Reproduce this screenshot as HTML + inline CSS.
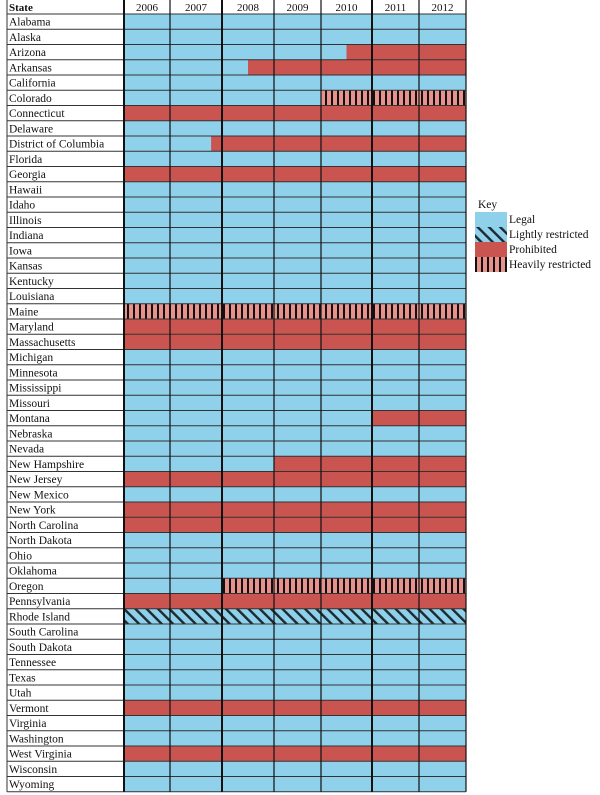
<!DOCTYPE html>
<html><head><meta charset="utf-8"><style>
body{margin:0;background:#fff;}
svg{display:block;font-family:"Liberation Serif",serif;}
</style></head><body>
<svg id="chart" width="600" height="795" viewBox="0 0 600 795" xmlns="http://www.w3.org/2000/svg">
<defs>
<pattern id="heavy" patternUnits="userSpaceOnUse" width="6" height="10">
<rect width="6" height="10" fill="#e8928e"/><rect x="1" width="2" height="10" fill="#111"/>
</pattern>
<pattern id="light" patternUnits="userSpaceOnUse" width="8" height="8" patternTransform="rotate(-45)">
<rect width="8" height="8" fill="#8fd0ea"/><rect x="0" width="2.4" height="8" fill="#1a2a30"/>
</pattern>
</defs>
<g id="cells"></g>
<g id="grid"></g>
<g id="labels"></g>
<g id="legend"></g>
</svg>
<script>
const years = ['2006','2007','2008','2009','2010','2011','2012'];
const states = ['Alabama','Alaska','Arizona','Arkansas','California','Colorado','Connecticut','Delaware','District of Columbia','Florida','Georgia','Hawaii','Idaho','Illinois','Indiana','Iowa','Kansas','Kentucky','Louisiana','Maine','Maryland','Massachusetts','Michigan','Minnesota','Mississippi','Missouri','Montana','Nebraska','Nevada','New Hampshire','New Jersey','New Mexico','New York','North Carolina','North Dakota','Ohio','Oklahoma','Oregon','Pennsylvania','Rhode Island','South Carolina','South Dakota','Tennessee','Texas','Utah','Vermont','Virginia','Washington','West Virginia','Wisconsin','Wyoming'];
// initial status per state (L legal, R lightly restricted, P prohibited, H heavily restricted)
const initialStatus = ['L','L','L','L','L','L','P','L','L','L','P','L','L','L','L','L','L','L','L','H','P','P','L','L','L','L','L','L','L','L','P','L','P','P','L','L','L','L','P','R','L','L','L','L','L','P','L','L','P','L','L'];
// status changes: [state, time (year + fraction), new status]
const changes = [['Arizona',2010.5,'P'],['Arkansas',2008.5,'P'],['Colorado',2010,'H'],['District of Columbia',2007.79,'P'],['Montana',2011,'P'],['New Hampshire',2009,'P'],['Oregon',2008,'H']];
const legendLabels = ['Legal','Lightly restricted','Prohibited','Heavily restricted'];
const legendCodes = ['L','R','P','H'];

const bounds = [124,170,222,274,321,372,419,466];
const fills = {L:'#8fd0ea',R:'url(#light)',P:'#c95450',H:'url(#heavy)'};
const top0 = 14, rowH = 15.25, left = 7;
function xScale(t){const i=Math.min(Math.floor(t-2006),6);const f=t-2006-i;return bounds[i]+f*(bounds[i+1]-bounds[i]);}
function yScale(i){return top0+i*rowH;}
const NS='http://www.w3.org/2000/svg';
function mk(tag,attrs,parent){const e=document.createElementNS(NS,tag);for(const k in attrs)e.setAttribute(k,attrs[k]);parent.appendChild(e);return e;}
const cells=document.getElementById('cells'),grid=document.getElementById('grid'),labels=document.getElementById('labels'),legend=document.getElementById('legend');

states.forEach((s,i)=>{
  const segs=[[2006,initialStatus[i]]];
  changes.filter(c=>c[0]===s).sort((a,b)=>a[1]-b[1]).forEach(c=>segs.push([c[1],c[2]]));
  segs.forEach((seg,j)=>{
    const end=j+1<segs.length?segs[j+1][0]:2013;
    const x0=xScale(seg[0]),x1=end>=2013?bounds[7]:xScale(end);
    const r=mk('rect',{x:x0,y:yScale(i),width:x1-x0,height:rowH,fill:fills[seg[1]]},cells);
    
    
  });
  const t=mk('text',{x:left+2,y:yScale(i)+11.5,'font-size':'11.5',fill:'#111'},labels);
  t.textContent=s;
  
  
});
years.forEach((y,i)=>{
  const t=mk('text',{x:(bounds[i]+bounds[i+1])/2,y:11,'font-size':'11','text-anchor':'middle',fill:'#111'},labels);
  t.textContent=y;
  
  
});
const st=mk('text',{x:left+2,y:11,'font-size':'11','font-weight':'bold',fill:'#111'},labels);
st.textContent='State';


const bottom=yScale(states.length);
for(let i=0;i<=states.length;i++){mk('line',{x1:left,x2:bounds[7],y1:yScale(i),y2:yScale(i),stroke:'#333','stroke-width':1},grid);}
mk('line',{x1:left,x2:left,y1:0,y2:bottom,stroke:'#333','stroke-width':1},grid);
bounds.forEach((b,i)=>{const thick=(i===0||i===2||i===5);mk('line',{x1:b,x2:b,y1:0,y2:bottom,stroke:'#111','stroke-width':thick?2:1.2},grid);});

const kt=mk('text',{x:478,y:208,'font-size':'11.5',fill:'#111'},legend);
kt.textContent='Key';
legendCodes.forEach((c,i)=>{
  const y=212+i*15;
  const r=mk('rect',{x:475,y:y,width:32,height:15,fill:fills[c]},legend);
  
  
  const t=mk('text',{x:509,y:y+11,'font-size':'11.5',fill:'#111'},legend);
  t.textContent=legendLabels[i];
  
  
});
</script>
</body></html>
